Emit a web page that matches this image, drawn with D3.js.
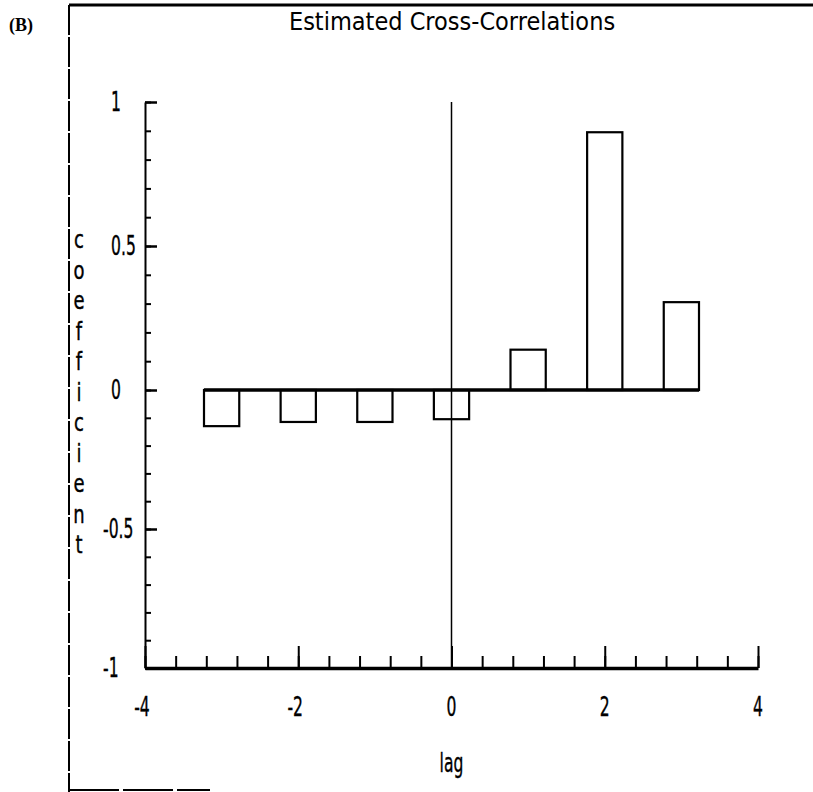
<!DOCTYPE html>
<html>
<head>
<meta charset="utf-8">
<script src="https://cdn.jsdelivr.net/npm/d3@7"></script>
<style>
  body { margin: 0; background: #fff; }
  text { font-family: "DejaVu Sans", sans-serif; fill: #000; }
</style>
</head>
<body>
<div id="my_dataviz"></div>
<script>
// lags and estimated cross-correlation coefficients
const lags = [-3, -2, -1, 0, 1, 2, 3];
const coefficients = [-0.13, -0.115, -0.115, -0.105, 0.14, 0.895, 0.305];
const xTickLabels = [-4, -2, 0, 2, 4];
const yTickLabels = [-1, -0.5, 0, 0.5, 1];
const yLabelLetters = "coefficient".split("");

const data = lags.map((d, i) => ({lag: d, value: coefficients[i]}));

var w = 813, h = 792;

var svg = d3.select("#my_dataviz").append("svg")
  .attr("width", w)
  .attr("height", h);

// condensed text: the plotter font is tall and narrow
function label(str, px, py, size, sx, anchor) {
  return svg.append("text")
    .text(str)
    .attr("transform", "translate(" + px + "," + py + ") scale(" + sx + ",1)")
    .attr("text-anchor", anchor || "start")
    .style("font-size", size + "px")
    .attr("stroke", "#000")
    .attr("stroke-width", 0.4);
}

// scanned page frame
svg.append("line")
  .attr("x1", 69).attr("x2", 69).attr("y1", 5).attr("y2", h)
  .attr("stroke", "#000").attr("stroke-width", 2)
  .attr("stroke-dasharray", "30 2");
svg.append("line")
  .attr("x1", 69).attr("x2", w).attr("y1", 5).attr("y2", 5)
  .attr("stroke", "#000").attr("stroke-width", 3);
svg.append("line")
  .attr("x1", 69).attr("x2", 210).attr("y1", 790).attr("y2", 790)
  .attr("stroke", "#000").attr("stroke-width", 2)
  .attr("stroke-dasharray", "50 4");

svg.append("text")
  .text("(B)")
  .attr("x", 9).attr("y", 31)
  .style("font-family", "'Liberation Serif', serif")
  .style("font-weight", "bold")
  .style("font-size", "18px");

label("Estimated Cross-Correlations", 452, 30, 25, 0.9, "middle")
  .attr("stroke-width", 0);

// set the ranges
var x = d3.scaleLinear().domain([-4, 4]).range([145, 758]);
var y = d3.scaleLinear().domain([-1, 0, 1]).range([668, 390, 102]);

// y axis: minor ticks every 0.1, major every 0.5, pointing inward
svg.append("g")
  .attr("transform", "translate(" + x(-4) + ",0)")
  .call(d3.axisRight(y).tickValues(d3.range(-10, 11).map(d => d / 10)).tickSize(6).tickSizeOuter(0).tickFormat(""))
  .call(g => g.selectAll("line, path").attr("stroke", "#000").attr("stroke-width", 2));
svg.append("g")
  .attr("transform", "translate(" + x(-4) + ",0)")
  .call(d3.axisRight(y).tickValues(yTickLabels).tickSize(12).tickSizeOuter(0).tickFormat(""))
  .call(g => g.select(".domain").remove())
  .call(g => g.selectAll("line").attr("stroke", "#000").attr("stroke-width", 2.5));

// x axis: minor ticks every 0.4, major every 2, pointing up
svg.append("g")
  .attr("transform", "translate(0," + y(-1) + ")")
  .call(d3.axisTop(x).tickValues(d3.range(-10, 11).map(d => d * 0.4)).tickSize(12).tickSizeOuter(0).tickFormat(""))
  .call(g => g.select(".domain").attr("stroke-width", 3.5))
  .call(g => g.selectAll("line, path").attr("stroke", "#000"))
  .call(g => g.selectAll("line").attr("stroke-width", 2));
svg.append("g")
  .attr("transform", "translate(0," + y(-1) + ")")
  .call(d3.axisTop(x).tickValues(xTickLabels).tickSize(22).tickSizeOuter(0).tickFormat(""))
  .call(g => g.select(".domain").remove())
  .call(g => g.selectAll("line").attr("stroke", "#000").attr("stroke-width", 2));

// tick labels
yTickLabels.forEach(d => {
  label(String(d), d < 0 ? 103 : 111, y(d) + 9, 26, 0.6, "start");
});

xTickLabels.forEach(d => {
  label(String(d), x(d) - (d < 0 ? 3 : 0), y(-1) + 48, 26, 0.6, "middle");
});

label("lag", x(0), 772, 26, 0.6, "middle");

// stacked y label
yLabelLetters.forEach((d, i) => {
  label(d, 79, 248 + i * 30.5, 24, 0.75, "middle");
});

// vertical line at lag 0
svg.append("line")
  .attr("x1", x(0)).attr("x2", x(0))
  .attr("y1", y(1)).attr("y2", y(-1))
  .attr("stroke", "#000").attr("stroke-width", 1.5);

// bars
var bw = x(0.46) - x(0);
svg.selectAll(".bar")
  .data(data)
  .enter().append("rect")
  .attr("class", "bar")
  .attr("x", d => x(d.lag) - bw / 2)
  .attr("width", bw)
  .attr("y", d => y(Math.max(0, d.value)))
  .attr("height", d => Math.abs(y(d.value) - y(0)))
  .attr("fill", "none")
  .attr("stroke", "#000")
  .attr("stroke-width", 2.2);

// zero baseline across bars
svg.append("line")
  .attr("x1", x(d3.min(lags)) - bw / 2).attr("x2", x(d3.max(lags)) + bw / 2)
  .attr("y1", y(0)).attr("y2", y(0))
  .attr("stroke", "#000").attr("stroke-width", 3.5);
</script>
</body>
</html>
